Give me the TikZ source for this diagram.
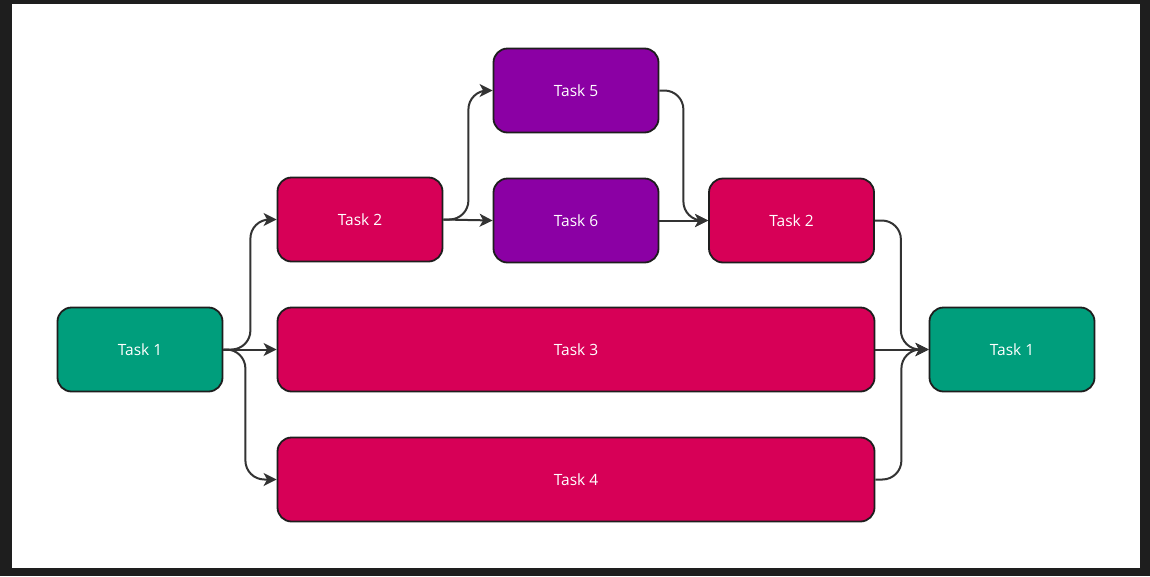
\documentclass[tikz,border=0pt]{standalone}
\usepackage{fontspec}
\setmainfont{Open Sans}
\usetikzlibrary{arrows.meta,calc}
\definecolor{frame}{RGB}{30,30,30}
\definecolor{taskgreen}{RGB}{0,158,124}
\definecolor{taskred}{RGB}{215,0,87}
\definecolor{taskpurple}{RGB}{139,0,164}
\definecolor{edgegray}{RGB}{51,51,51}
\begin{document}
\begin{tikzpicture}[x=1pt,y=-1pt,
  task/.style={draw=frame, line width=1.8pt, rounded corners=14pt,
    minimum height=84pt, text=white, font=\fontsize{15.5}{18}\selectfont,
    inner sep=0pt},
  short/.style={task, minimum width=165pt},
  long/.style={task, minimum width=597pt},
  conn/.style={draw=edgegray, line width=2pt, rounded corners=19pt,
    -{Stealth[length=13pt,width=13pt,inset=3.5pt]}}]
  % canvas with its dark frame
  \fill[frame] (0,0) rectangle (1150,576);
  \fill[white] (12,4) rectangle (1140,568);
  \useasboundingbox (0,0) rectangle (1150,576);

  % tasks
  \node[short, fill=taskgreen]  (t1)  at (140,349.5)  {Task 1};
  \node[short, fill=taskred]    (t2)  at (360,219.5)  {Task 2};
  \node[short, fill=taskpurple] (t5)  at (576,90.5)   {Task 5};
  \node[short, fill=taskpurple] (t6)  at (576,220.5)  {Task 6};
  \node[short, fill=taskred]    (t2b) at (791.5,220.5){Task 2};
  \node[long,  fill=taskred]    (t3)  at (576,349.5)  {Task 3};
  \node[long,  fill=taskred]    (t4)  at (576,479.5)  {Task 4};
  \node[short, fill=taskgreen]  (t1b) at (1012,349.5) {Task 1};

  % connectors
  \draw[conn] (t1.east) -- ++(27,0) |- (t2.west);
  \draw[conn] (t1.east) -- (t3.west);
  \draw[conn] (t1.east) -- ++(22,0) |- (t4.west);
  \draw[conn] (t2.east) -- ++(25,0) |- (t5.west);
  \draw[conn] (t2.east) -- (t6.west);
  \draw[conn] (t5.east) -- ++(24,0) |- (t2b.west);
  \draw[conn] (t6.east) -- (t2b.west);
  \draw[conn] (t2b.east) -- ++(26,0) |- (t1b.west);
  \draw[conn] (t3.east) -- (t1b.west);
  \draw[conn] (t4.east) -- ++(26,0) |- (t1b.west);
\end{tikzpicture}
\end{document}
